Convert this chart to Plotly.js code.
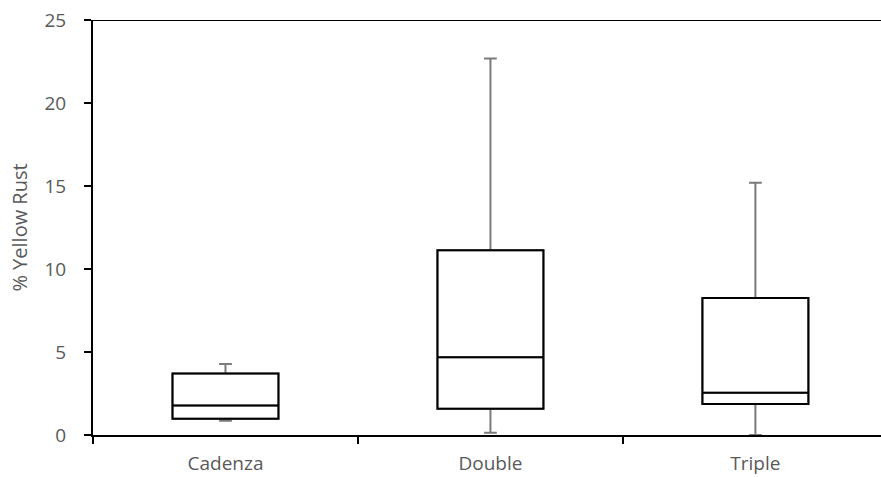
<!DOCTYPE html>
<html>
<head>
<meta charset="utf-8">
<script src="https://cdn.plot.ly/plotly-3.0.1.min.js"></script>
<style>html,body{margin:0;padding:0;background:#fff;}#chart{width:881px;height:477px;}</style>
</head>
<body>
<div id="chart"></div>
<script>
var categories = ["Cadenza", "Double", "Triple"];
var lowerWhisker = [0.86, 0.13, 0.0];
var q1Values = [0.98, 1.58, 1.86];
var medianValues = [1.78, 4.69, 2.54];
var q3Values = [3.70, 11.13, 8.25];
var upperWhisker = [4.27, 22.68, 15.19];
var yTicks = [0, 5, 10, 15, 20, 25];

var textColor = "#595959";
var fontFam = "Open Sans, Liberation Sans, sans-serif";

var whiskerTrace = {
  type: "box",
  x: categories,
  q1: q1Values,
  median: medianValues,
  q3: q3Values,
  lowerfence: lowerWhisker,
  upperfence: upperWhisker,
  width: 0.4,
  whiskerwidth: 0.12,
  line: {color: "#7a7a7a", width: 2},
  fillcolor: "rgba(0,0,0,0)",
  hoverinfo: "skip",
  showlegend: false
};
var boxTrace = {
  type: "box",
  x: categories,
  q1: q1Values,
  median: medianValues,
  q3: q3Values,
  lowerfence: q1Values,
  upperfence: q3Values,
  width: 0.4,
  whiskerwidth: 0,
  line: {color: "#000000", width: 2},
  fillcolor: "rgba(255,255,255,0)",
  hoverinfo: "skip",
  showlegend: false
};

var layout = {
  width: 881,
  height: 477,
  margin: {l: 93, r: 0, t: 20, b: 42},
  paper_bgcolor: "#ffffff",
  plot_bgcolor: "#ffffff",
  boxmode: "overlay",
  showlegend: false,
  font: {family: fontFam, color: textColor, size: 18},
  xaxis: {
    type: "category",
    range: [-0.5, 2.474],
    tickson: "boundaries",
    ticks: "outside",
    ticklen: 7,
    tickwidth: 2,
    tickcolor: "#000",
    showline: true,
    linecolor: "#000",
    linewidth: 2,
    showgrid: false,
    zeroline: false,
    tickfont: {size: 19, color: textColor, family: fontFam},
    ticklabelstandoff: 10,
    fixedrange: true
  },
  yaxis: {
    range: [0, 25],
    tickvals: yTicks,
    ticktext: yTicks.map(String),
    ticks: "outside",
    ticklen: 7,
    tickwidth: 2,
    tickcolor: "#000",
    showline: true,
    linecolor: "#000",
    linewidth: 2,
    showgrid: false,
    zeroline: false,
    tickfont: {size: 19, color: textColor, family: fontFam},
    ticklabelstandoff: 14,
    title: {text: "% Yellow Rust", font: {size: 20, color: textColor, family: fontFam}, standoff: 11},
    fixedrange: true
  },
  shapes: [{
    type: "line", xref: "paper", yref: "y",
    x0: 0, x1: 1, y0: 25, y1: 25,
    line: {color: "#000", width: 2}
  }]
};

Plotly.newPlot("chart", [whiskerTrace, boxTrace], layout, {displayModeBar: false, staticPlot: true});
</script>
</body>
</html>
